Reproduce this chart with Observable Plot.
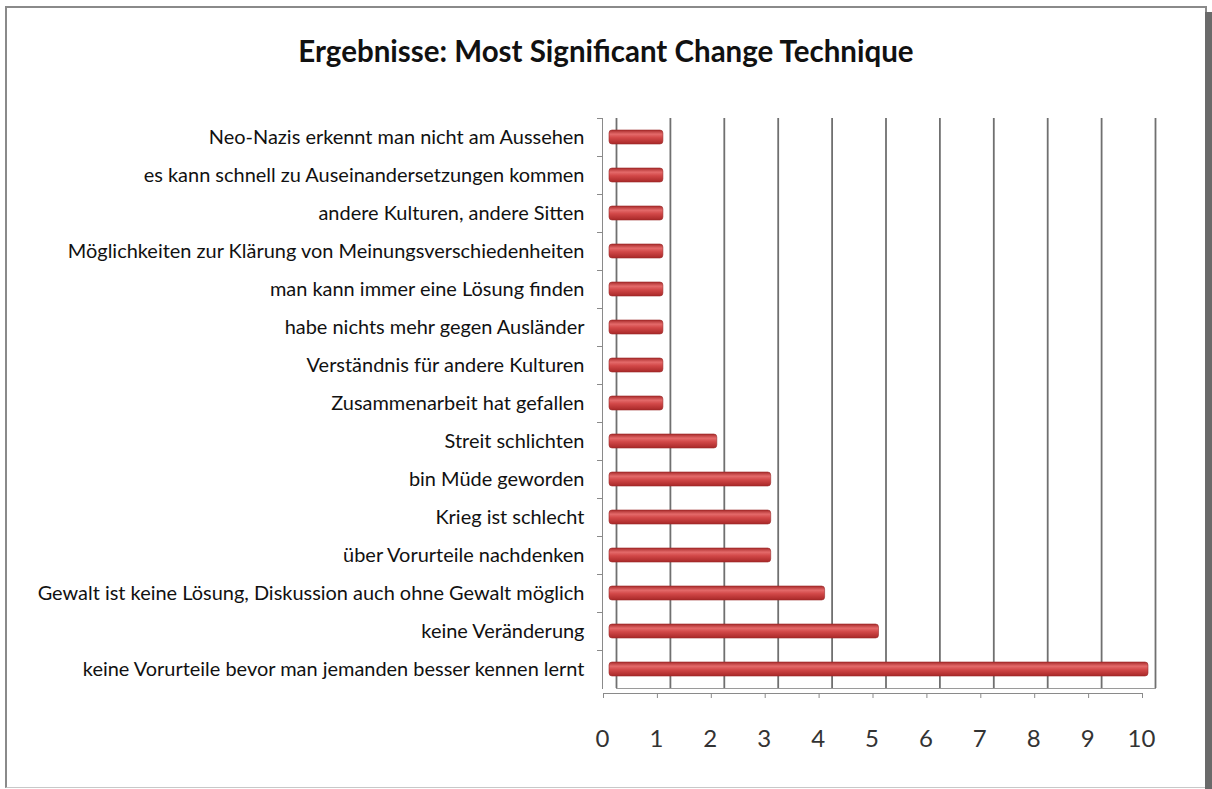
<!DOCTYPE html>
<html>
<head>
<meta charset="utf-8">
<script src="https://cdn.jsdelivr.net/npm/d3@7"></script>
<script src="https://cdn.jsdelivr.net/npm/@observablehq/plot@0.6"></script>
<style>
  html, body { margin: 0; padding: 0; background: #fff; }
  #wrap { position: relative; width: 1212px; height: 789px; overflow: hidden; background: #fff; }
  #border { position: absolute; left: 5px; top: 6px; width: 1198px; height: 779px; border: 2px solid #8a8a8a; border-bottom-color: #c8c8c8; border-bottom-width: 1px; }
  #shadow { position: absolute; left: 1205px; top: 12px; width: 7px; height: 777px; background: #6a6a6a; }
  #title { position: absolute; left: 0; width: 1212px; top: 33px; text-align: center;
           font-family: Lato, "Open Sans", sans-serif; font-weight: bold; font-size: 29.5px; color: #111; }
  #chart { position: absolute; left: 0; top: 0; }
</style>
</head>
<body>
<div id="wrap">
  <div id="border"></div>
  <div id="shadow"></div>
  <div id="chart"></div>
  <div id="title">Ergebnisse: Most Significant Change Technique</div>
</div>
<script>
const categories = [
  "Neo-Nazis erkennt man nicht am Aussehen",
  "es kann schnell zu Auseinandersetzungen kommen",
  "andere Kulturen, andere Sitten",
  "Möglichkeiten zur Klärung von Meinungsverschiedenheiten",
  "man kann immer eine Lösung finden",
  "habe nichts mehr gegen Ausländer",
  "Verständnis für andere Kulturen",
  "Zusammenarbeit hat gefallen",
  "Streit schlichten",
  "bin Müde geworden",
  "Krieg ist schlecht",
  "über Vorurteile nachdenken",
  "Gewalt ist keine Lösung, Diskussion auch ohne Gewalt möglich",
  "keine Veränderung",
  "keine Vorurteile bevor man jemanden besser kennen lernt"
];
const values = [1, 1, 1, 1, 1, 1, 1, 1, 2, 3, 3, 3, 4, 5, 10];
const xTicks = [0, 1, 2, 3, 4, 5, 6, 7, 8, 9, 10];

const data = categories.map((c, i) => ({category: c, value: values[i]}));

const plot = Plot.plot({
  width: 1212,
  height: 789,
  marginLeft: 609,
  marginRight: 64,
  marginTop: 118,
  marginBottom: 101,
  style: {background: "transparent", fontFamily: "Lato, 'Open Sans', sans-serif"},
  x: {domain: [0, 10]},
  y: {domain: categories, padding: 0},
  marks: [
    Plot.ruleX(xTicks, {x: d => d, stroke: "#707070", strokeWidth: 1.8, dx: 7}),
    Plot.frame({anchor: "bottom", stroke: "#9a9a9a", dx: 7}),
    Plot.frame({anchor: "bottom", stroke: "#8a8a8a", dx: -6, dy: 5}),
    Plot.frame({anchor: "left", stroke: "#8a8a8a", dx: -7}),
    Plot.axisX(xTicks, {tickSize: 5, dy: 5, dx: -6, text: null, label: null, stroke: "#8a8a8a"}),
    Plot.axisX(xTicks, {tickSize: 0, tickPadding: 41, dx: -7, fontSize: 24, fill: "#333", label: null}),
    Plot.axisY({tickSize: 5, dy: -19, dx: -7, text: null, label: null, stroke: "#8a8a8a"}),
    Plot.axisY({tickSize: 0, tickPadding: 25, fontSize: 19.95, fill: "#111", label: null}),
    Plot.barX(data, {x: "value", y: "category", fill: "url(#barGrad)", stroke: "#9b2a2a", strokeWidth: 0.6, insetTop: 12, insetBottom: 12, rx: 3})
  ]
});

const defs = document.createElementNS("http://www.w3.org/2000/svg", "defs");
defs.innerHTML = `
  <linearGradient id="barGrad" x1="0" y1="0" x2="0" y2="1">
    <stop offset="0" stop-color="#a82a2a"/>
    <stop offset="0.3" stop-color="#e46a6a"/>
    <stop offset="0.55" stop-color="#d24848"/>
    <stop offset="1" stop-color="#a82828"/>
  </linearGradient>`;
plot.insertBefore(defs, plot.firstChild);
document.getElementById("chart").appendChild(plot);
</script>
</body>
</html>
